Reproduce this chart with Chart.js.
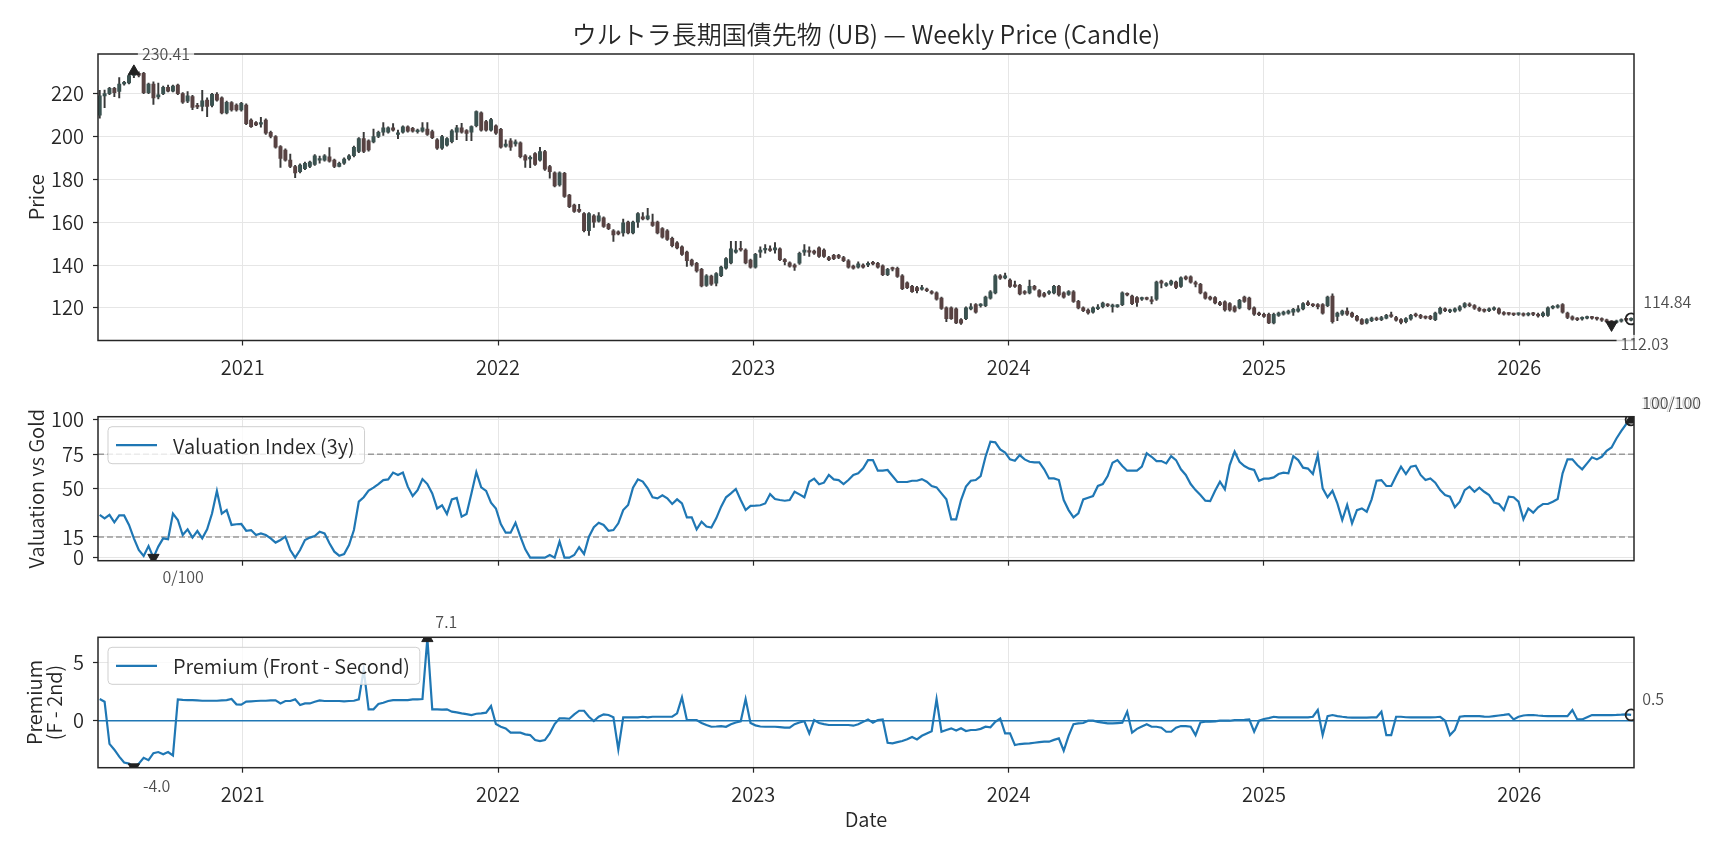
<!DOCTYPE html>
<html>
<head>
<meta charset="utf-8">
<title>UB Weekly</title>
<script src="https://cdn.jsdelivr.net/npm/chart.js@4.4.1/dist/chart.umd.min.js"></script>
<style>
  html, body { margin: 0; padding: 0; background: #fff; }
  #wrap { position: relative; width: 1728px; height: 849px; }
  #wrap canvas { position: absolute; left: 0; }
</style>
</head>
<body>
<div id="wrap">
  <canvas id="priceChart" width="1728" height="390" style="top:0"></canvas>
  <canvas id="valChart" width="1728" height="200" style="top:390px"></canvas>
  <canvas id="premChart" width="1728" height="259" style="top:590px"></canvas>
</div>
<script>
/* ── DATA ─────────────────────────────────────── */
const START_DATE = '2020-06-10';          // first weekly bar
const YEARS = [2021, 2022, 2023, 2024, 2025, 2026];
const X_MIN = 2020.4332, X_MAX = 2026.4496;

const PRICE_TICKS = [120, 140, 160, 180, 200, 220];
const VAL_TICKS   = [0, 15, 50, 75, 100];
const PREM_TICKS  = [0, 5];
const VAL_BANDS   = [15, 75];

const OPEN = [
  210,219,220,222.5,221,224.5,225,228.5,229.5,229.5,
  220.5,224.5,218.5,220,223,221.2,224,220,216.5,218.6,
  214.5,214,217,214.5,219.7,218,211,215.8,214.7,212.4,
  214.7,207.7,206.5,205.8,207.7,202,200,195.3,193.7,189,
  186,183.6,185,186,187,189,189,190.5,189,186,
  187.5,189.5,191,193,199,198,197.5,200,202,202,
  204,201,202,204.5,203.8,202.2,202.5,203.5,202.3,198.5,
  194.5,196,197.6,202,204,202.8,202,205,211,207,
  203,205,203.3,195.5,198,196.5,197,191,189.5,192,
  189,193,186,183,177.4,182.8,172.6,168,166,164,
  156,163,160.5,162,159,156,155.5,155,160,155,
  160,162.5,161.5,160,160,157,156,152.5,150.4,148.5,
  146,142.3,140.8,138,130.5,134.8,131.5,135,138.5,141,
  146,147.5,147,142.3,139,146,147,147.5,147,147.5,
  142.5,141,140,140.8,146,146.5,146.5,148,147,143.5,
  144.5,144.5,143.5,142,139.5,139,140,140,141,140.8,
  139.6,135.5,138.2,138.5,135,131.7,130,129.5,128.7,128.8,
  127.5,127,124.5,120,120,119.5,114.5,115,119.5,121.5,
  121,121,124.5,127,135,134,133,130.3,130.5,127.5,
  127,130,128,126.7,126.8,127,130,127,126.3,127.5,
  123,120,119,118,119.6,120.5,121.6,120.5,120.6,121.5,
  126.5,125.5,124.8,124,124.6,123.5,124,132.5,130.5,131,
  132,130,134.5,134.5,131.5,131,127,125,124.8,122.5,
  122.8,122,120.5,120,125,124.5,120,117.5,117,117,
  113,116.5,117,117.5,118,118.5,119.5,122.5,121.5,121.5,
  121.5,121,125.5,116,117,118.5,117.5,116,114.5,113,
  114,115.2,114.5,115.2,116.5,115.5,114.5,113.5,114.8,116.5,
  116.5,115.8,116,114.5,117.5,119.5,118.3,118.5,119,120.5,
  121.8,121,119.8,119,118.7,119.3,119.5,117.8,117.3,117.1,
  116.9,117.2,116.7,117.4,117,116.3,116.5,120,120.3,121.5,
  117.5,115.8,114.9,114.8,115.2,115.5,115.2,114.8,114.2,113.6,
  113.2,113.8,114.4,114.3
];
const HIGH = [
  221.5,221.7,223,223,227.5,225.8,229.2,230.41,230.2,230,
  225,225.5,225,223.5,224,224,224.5,220.5,221,219.2,
  215.5,221.5,218,220.2,220.5,218.5,216.5,216.3,215.2,216,
  215.2,208.2,207,209,208.2,202.5,200.4,195.8,194.2,191.8,
  186.5,187.2,188,188.5,191.5,190.8,191.5,194.8,189.5,188,
  190,191.5,195.5,199.5,202,198.5,203.5,202.5,206.5,204.5,
  206,203,205,205,204.3,203.5,206.5,206.5,203,199,
  200.5,199.5,203.2,205.2,206.2,203.2,205,212,211.5,207.5,
  208.5,205.5,203.8,198.5,199,198.5,197.5,191.5,191,192.5,
  195,193.5,186.5,183.5,183.5,183.3,173,168.5,168.3,164.5,
  164.5,163.5,164.5,162.5,159.5,156.5,156,161.5,160.5,160.5,
  164.5,164.5,166.5,163.8,160.5,157.5,156.5,153,150.9,149,
  146.5,142.8,141.3,138.5,135.5,135.3,136.5,139.5,143.5,151,
  151,151,147.5,142.8,145.5,148.5,149.5,149,150.5,148,
  143,141.5,140.5,146,149.5,148.5,147,148.5,147.5,144,
  145,145,144,142.5,140,141.5,140.5,141.5,141.7,141.3,
  140.1,138.5,139,139,135.5,132.2,130.5,130,130.5,129.2,
  128,127.5,125,120.5,120.5,120,115,120.5,122,122,
  122,125.5,128,135.5,135.5,136.2,133.5,132.5,131,128,
  133,130.5,128.5,127.2,128,130.5,130.5,127.5,128,128,
  123.5,120.5,119.5,120.5,121.5,122.7,122,121.7,121.5,127.5,
  127,126,125.3,125,125,125.2,132.5,133,131.8,133,
  132.5,134.5,135,135,132.5,131.5,127.5,125.5,125.3,123,
  123.3,122.5,121,124,125.5,125,120.5,118,117.5,117.5,
  117.5,118,118.5,119,119.8,121,122.5,123.3,122,122,
  122,125.5,126.5,118,119,120,118,116.5,115,115,
  115.7,115.7,116,117,118,116,115,115.5,117,117.5,
  117,116.3,116.5,118,120.3,120,119.4,120,121,122.5,
  122.3,121.5,120.3,119.5,120,120.5,120,118.3,117.8,117.6,
  117.7,117.7,117.8,117.9,117.5,118.1,120.5,121,121.5,122,
  118,116.3,115.4,115.8,116.1,116,115.7,115.3,114.7,114.1,
  114.3,114.9,114.9,115.3
];
const LOW = [
  208.5,213.5,219.5,218.6,218,224,224.5,227.5,227.8,220,
  220,215,217.5,219.5,220.8,220.8,219.5,215.5,215.8,212.5,
  213,212,209.3,213.8,216.5,210.5,210.5,211.8,211.8,211.8,
  205.5,204.2,205,204.4,201,199.3,194.5,185.6,188.5,185.5,
  180.8,183,184.5,185.5,186.5,187.5,188.5,188,185.5,185.8,
  187,189,190.5,192.5,192.5,193.2,197,199.5,200.5,201.5,
  202.5,199,201.5,202,202,201.5,202,200.5,199,194,
  194,195.5,197,198.5,201.5,198,198,204.5,202.5,202.5,
  202.5,201,194.5,195,193.5,195.5,190,185.6,185.5,186.5,
  188.5,184.2,180.5,176.4,176.8,171.5,166.8,164.5,164.5,155.5,
  153.8,157.5,160,157.5,156.5,151,154,153.5,154.5,154.5,
  157.5,161,161,158,154.5,152.5,151.5,148.5,147.5,144.5,
  139.3,139.5,136.7,129.8,130,130.5,130.2,134.5,138,140.5,
  145.5,146.5,140.5,138.5,138.5,143.5,145.5,146.3,145.5,142,
  140,139,137.5,140.3,144.5,144,145,143.5,143.5,142,
  142.5,143,141.5,138.5,138,138.5,138.5,139.2,140,138.5,
  135,135,137.2,134.2,128.5,129,127.2,127,128.3,127.6,
  126.4,123.6,119.3,113.5,114.6,112.6,112.3,114.5,119,117.5,
  120.3,120.5,124,126.5,133.3,133.5,129.5,129.5,126,126.3,
  126.5,128.2,125,125,126.3,126.5,125.5,124.5,125.8,122.5,
  119.5,118.2,117,117.5,119.2,120,120.6,118,120.2,121,
  125.6,121.5,120.7,123.5,123.7,121.8,123.5,129.3,130,130.5,
  129,129.5,133,131.5,129.8,126.5,124,123.6,121.8,121,
  118.5,118.5,118,119.5,122.5,119,116.5,116.3,115.5,112.6,
  112.5,116,116.6,117,116.5,118,119,121,120.5,119.5,
  117,120.5,112.8,114,116.5,116.5,115.5,113.8,112.2,112.5,
  113.5,114,114,114.8,115.5,113.8,112.5,113,114.3,115.8,
  115,114.8,114.5,114,117,118.2,117.8,118,118.5,120,
  120.5,119.3,118.3,118,118.2,118.8,117,116.6,116.6,116.4,
  116.5,116.1,116.2,116.4,115.7,115.8,116,119.5,119.8,117.5,
  115,114.2,114,114.3,114.8,114.7,114.3,113.7,113.1,112.03,
  112.8,113.3,113.8,113.9
];
const CLOSE = [
  219,220,222.5,220.5,224.5,225,228.5,229.5,228.5,220.5,
  224.5,218,219.5,223,221.2,223.5,220,216,219,213.6,
  213.8,216.7,214,219.7,217,211,216,212.4,212.4,215.5,
  206,204.6,205.4,206.5,201.5,200,195,189.8,189,186,
  183,186.7,187.5,188,191,189.5,191,188.5,186,187.5,
  189.5,191,195,199,193,193.7,200,202,204,204,
  203,201.5,204.5,202.5,202.5,203,204,201,199.5,194.5,
  200,199,202.7,204,202,201.4,204.6,211.6,203,203,
  207.9,201.5,195,196.5,195,197.5,190.6,189,190.2,187,
  193,184.7,183.6,176.9,183,172,167.2,165,165,156,
  164,160,163,158,157,154,154.5,159.7,155,160,
  164,161.5,163,158.5,155,153,152,149,148,145,
  142,140,137.2,130.2,135,131,136,139,143,147.6,
  147,147,141,139,145,147,147.5,146.8,148,142.5,
  141.5,139.5,139,145.5,147,146,145.5,144,144,142.5,
  143,143.5,142,139,138.5,140.5,139,140.5,140.5,139,
  135.5,138,138,134.7,129,129.4,127.6,128,129.3,128,
  126.8,124,119.7,115,115,113,112.8,120,120.5,118,
  121.5,125,127.5,135,133.8,135,130,130,126.5,126.8,
  130,128.7,125.5,125.5,127.5,130,126,125,127.6,123,
  120,118.7,117.6,120,120.3,122.2,121,121.2,121,127,
  126,122,122.5,124.5,124,123,132,131.5,131.3,132.5,
  129.5,134,133.5,132,131,127,124.5,124,122.3,121.5,
  119,119,118.5,123.5,123,119.5,117,116.8,116,113,
  117,117.5,118,118.5,119.3,119.5,122,121.5,121,120.6,
  117.5,125,113.5,117.5,118.5,117,116,114.2,112.5,114.5,
  115.2,114.5,115.5,116.5,116,114.3,113.2,115,116.5,116.3,
  115.5,115.3,115,117.5,119.8,118.7,118.9,119.5,120.5,122,
  121,119.8,118.8,118.5,119.5,120,117.5,117,117,116.8,
  117.2,116.6,117.3,116.9,116.2,117.6,120,120.5,121,118,
  115.5,114.7,114.5,115.3,115.6,115.2,114.8,114.2,113.6,113.2,
  113.8,114.4,114.3,114.84
];

const VALUATION = [
  31,28.5,31,25.6,30.6,30.6,23.7,14,5.5,1.2,
  8.4,0,8,14,13.3,32,27.3,16.4,20.5,14.5,
  19.3,14,20.5,32,48.4,32,34.5,23.7,24.2,24.4,
  19.5,20,16.4,17.6,16.4,14,10.9,12.8,15.2,5.5,
  0,5.5,12.8,14.5,15.7,18.8,17.6,10.4,4.3,1.4,
  2.6,9.1,20,40.6,43.8,48.6,50.8,53.4,56.3,56.8,
  61.7,60,61.7,51.5,44.7,49,57,53.4,46.6,35.7,
  38,31.7,42.3,43.3,29.7,31.7,46.6,62.1,51,48.4,
  39.9,35.7,24.4,18.1,18.1,25.3,15.2,6,0,0,
  0,0,1.9,0,11.6,0,0,1.9,7.5,2.6,
  15.2,22,25.3,23.7,19.5,20,24.9,34.5,38.2,50.8,
  56.8,55.2,50.3,43.8,43,45.2,43,38.9,
  42.3,39.3,29.2,29.2,20.5,26.1,22.5,21.8,28.5,37,
  43.8,46.6,49.8,41.8,34.5,37.5,37.7,38,39.3,46.1,
  42.5,41.8,41.3,41.8,47.8,45.9,43.8,55.1,57.3,53.2,
  54.4,60,56.8,56.3,53.4,56.3,60,61.2,64.8,70.8,
  70.8,63.1,63.1,63.6,59.2,54.9,54.9,54.9,55.8,55.8,
  57,55.1,52,51,46.6,42.3,27.8,27.8,41.8,51.5,
  55.8,56.3,59.2,73.2,84.1,83.7,78.6,76.2,71.3,70.3,
  74.4,71.3,69.6,69.1,69.1,64.1,57.5,57.5,56.3,41.8,
  34.5,29.2,32.1,42.3,43.5,44.7,52,53.4,59.2,68.9,
  70.8,66.5,63.1,63.1,63.1,66,75.7,73.2,70.1,70.1,
  68.4,73.7,70.8,64.1,60,53.4,49,45.4,41.3,41,
  48.5,55.1,49.6,67.2,76.9,69.6,66.5,64.6,63.6,55.8,
  57.3,57.3,58.2,60.7,61.7,61.2,73.7,70.8,65.3,64.6,
  60.7,74.4,50.3,43.8,48.5,39.3,27.3,38.2,24.9,34.5,
  35.7,33.3,42.3,55.8,56.3,52,52,59.2,66,60.7,
  66,66.7,60,56.3,57.5,54.4,49,45.4,44.2,36.5,
  40.6,49,51.5,47.8,50.8,47.8,45.4,39.9,38.9,34.5,
  44.2,43.8,40.6,27.8,35.7,32.6,36.5,38.9,38.9,40.6,
  42.5,61.2,71.3,71.3,67.2,64.1,68.4,72.8,71.3,73.2,
  77.6,80,86.5,92,97,100
];

const PREMIUM = [
  1.87,1.64,-2.0,-2.5,-3.1,-3.6,-3.7,-4.0,-3.7,-3.2,
  -3.4,-2.8,-2.7,-2.9,-2.7,-3.0,1.84,1.8,1.78,1.78,
  1.75,1.72,1.72,1.72,1.72,1.75,1.78,1.87,1.41,1.38,
  1.64,1.67,1.7,1.72,1.72,1.75,1.75,1.49,1.7,1.7,
  1.84,1.35,1.49,1.49,1.64,1.75,1.7,1.7,1.7,1.7,
  1.67,1.7,1.72,1.84,4.4,0.98,0.98,1.44,1.55,1.7,
  1.78,1.78,1.78,1.78,1.84,1.84,1.87,7.1,0.98,0.98,
  0.95,0.98,0.78,0.72,0.63,0.57,0.49,0.6,0.63,0.69,
  1.26,-0.29,-0.52,-0.66,-1.03,-1.03,-1.03,-1.18,-1.24,-1.67,
  -1.75,-1.67,-1.09,-0.29,0.2,0.2,0.17,0.55,0.86,0.86,
  0.34,-0.03,0.34,0.55,0.49,0.29,-2.47,0.29,0.29,0.29,
  0.29,0.34,0.29,0.34,0.34,0.34,0.34,0.34,0.63,2.01,
  0.06,0.06,0.06,-0.2,-0.37,-0.52,-0.5,-0.46,-0.52,-0.3,
  -0.15,-0.05,1.87,-0.2,-0.4,-0.5,-0.52,-0.52,-0.52,-0.55,
  -0.6,-0.6,-0.3,-0.15,-0.05,-1.09,0.06,-0.2,-0.3,-0.37,
  -0.37,-0.37,-0.37,-0.37,-0.43,-0.3,-0.1,0.11,-0.17,0.05,
  0.11,-1.9,-1.95,-1.85,-1.75,-1.6,-1.4,-1.61,-1.3,-1.1,
  -0.9,1.87,-0.95,-0.8,-0.66,-0.85,-0.65,-0.89,-0.8,-0.8,
  -0.7,-0.52,-0.57,-0.1,0.2,-1.09,-1.09,-2.1,-2.01,-1.98,
  -1.95,-1.9,-1.85,-1.81,-1.81,-1.65,-1.52,-2.59,-1.3,-0.3,
  -0.23,-0.2,0,0,-0.1,-0.17,-0.23,-0.23,-0.2,-0.17,
  0.78,-1.03,-0.7,-0.5,-0.3,-0.52,-0.52,-0.6,-0.95,-0.95,
  -0.6,-0.46,-0.46,-0.52,-1.24,-0.15,-0.09,-0.09,-0.06,0,
  0,0,0.06,0.06,0.08,0.11,-0.95,0,0.15,0.22,
  0.34,0.29,0.29,0.29,0.29,0.29,0.29,0.29,0.34,0.92,
  -1.24,0.4,0.49,0.4,0.34,0.29,0.26,0.26,0.26,0.26,
  0.29,0.29,0.78,-1.24,-1.24,0.34,0.34,0.3,0.29,0.29,
  0.29,0.29,0.29,0.3,0.34,0,-1.24,-0.8,0.34,0.4,
  0.4,0.4,0.4,0.36,0.34,0.4,0.45,0.5,0.57,0.11,
  0.34,0.45,0.49,0.49,0.45,0.42,0.4,0.4,0.4,0.4,
  0.4,0.92,0.11,0.11,0.3,0.49,0.49,0.49,0.49,0.49,
  0.5,0.52,0.55,0.5
];

/* ── STYLE ────────────────────────────────────── */
const FONT  = "'Noto Sans CJK JP', 'Noto Sans', 'DejaVu Sans', sans-serif";
const WEIGHT = '350';
const INK   = '#262626';
const GRID  = '#e6e6e6';
const BLUE  = '#1f77b4';
const UP    = '#3b5250';
const DOWN  = '#574242';
const WICK  = '#383838';
const MARK  = '#222222';

Chart.defaults.font.family = FONT;
Chart.defaults.font.weight = WEIGHT;
Chart.defaults.color = INK;
Chart.defaults.animation = false;
Chart.defaults.events = [];

/* ── HELPERS ──────────────────────────────────── */
function decYear(d) {
  const y = d.getUTCFullYear();
  const a = Date.UTC(y, 0, 1), b = Date.UTC(y + 1, 0, 1);
  return y + (d.getTime() - a) / (b - a);
}
const t0 = Date.parse(START_DATE + 'T00:00:00Z');
const XS = CLOSE.map((_, i) => decYear(new Date(t0 + i * 7 * 864e5)));
const LAST = XS.length - 1;

const argMax = a => a.reduce((m, v, i) => v > a[m] ? i : m, 0);
const argMin = a => a.reduce((m, v, i) => v < a[m] ? i : m, 0);

function xAxis(height, labels, title) {
  return {
    type: 'linear', min: X_MIN, max: X_MAX, offset: false,
    afterBuildTicks: s => { s.ticks = YEARS.map(v => ({ value: v })); },
    afterFit: s => { s.height = height; },
    grid: { color: GRID, lineWidth: 1, offset: false, tickLength: 5, tickColor: INK, tickWidth: 1.2 },
    border: { display: false },
    ticks: { autoSkip: false, maxRotation: 0, padding: 9.5, font: { size: 20 }, color: INK,
             callback: v => labels ? String(v) : '' },
    title: title
      ? { display: true, text: title, font: { size: 20 }, color: INK, padding: { top: 0, bottom: 18 } }
      : { display: false }
  };
}

function yAxis(min, max, ticks, title, lineHeight) {
  return {
    type: 'linear', min, max,
    afterBuildTicks: s => { s.ticks = ticks.map(v => ({ value: v })); },
    afterFit: s => { s.width = 98; },
    grid: { color: GRID, lineWidth: 1, tickLength: 5, tickColor: INK, tickWidth: 1.2 },
    border: { display: false },
    ticks: { padding: 9, font: { size: 20 }, color: INK },
    title: { display: true, text: title, font: { size: 20, lineHeight }, color: INK,
             padding: { top: 24, bottom: 0 } }
  };
}

function marker(x, y, style, rot, hollow) {
  return {
    type: 'scatter', order: 0, clip: 0,
    data: [{ x, y }],
    pointStyle: style, rotation: rot,
    pointRadius: hollow ? 5.5 : 6.5,
    pointBorderWidth: hollow ? 1.8 : 1,
    pointBorderColor: MARK,
    pointBackgroundColor: hollow ? 'rgba(0,0,0,0)' : MARK
  };
}

/* ── PLUGINS ──────────────────────────────────── */
const frame = {
  id: 'frame',
  afterDraw(chart) {
    const { ctx, chartArea: a } = chart;
    ctx.save();
    ctx.strokeStyle = INK; ctx.lineWidth = 1.5;
    ctx.strokeRect(a.left, a.top, a.right - a.left, a.bottom - a.top);
    ctx.restore();
  }
};

const legendBox = {
  id: 'legendBox',
  afterDraw(chart, args, o) {
    if (!o.label) return;
    const { ctx, chartArea: a } = chart;
    ctx.save();
    ctx.font = WEIGHT + ' 20px ' + FONT;
    const tw = ctx.measureText(o.label).width;
    const x = a.left + 10, y = a.top + 10, w = tw + 75, h = 37;
    ctx.beginPath(); ctx.roundRect(x, y, w, h, 4);
    ctx.fillStyle = 'rgba(255,255,255,0.8)'; ctx.fill();
    ctx.strokeStyle = '#cfcfcf'; ctx.lineWidth = 1; ctx.stroke();
    ctx.strokeStyle = BLUE; ctx.lineWidth = 2.2;
    ctx.beginPath(); ctx.moveTo(x + 8, y + h / 2); ctx.lineTo(x + 49, y + h / 2); ctx.stroke();
    ctx.fillStyle = INK; ctx.textBaseline = 'middle';
    ctx.fillText(o.label, x + 65, y + h / 2 + 1);
    ctx.restore();
  }
};

// value labels next to the min / max / last markers
const notes = {
  id: 'notes',
  afterDraw(chart, args, o) {
    const { ctx } = chart;
    const xs = chart.scales.x, ys = chart.scales.y;
    ctx.save();
    ctx.font = WEIGHT + ' 16px ' + FONT;
    ctx.textBaseline = 'middle';
    (o.items || []).forEach(n => {
      const px = xs.getPixelForValue(n.x) + n.dx;
      const py = ys.getPixelForValue(n.y) + n.dy;
      const w = ctx.measureText(n.text).width;
      ctx.fillStyle = 'rgba(255,255,255,0.72)';
      ctx.fillRect(px - 4, py - 9, w + 8, 18);
      ctx.fillStyle = '#4d4d4d';
      ctx.fillText(n.text, px, py);
    });
    ctx.restore();
  }
};

const fmt2 = v => v.toFixed(2);

/* ── PRICE (CANDLES) ──────────────────────────── */
function renderPrice() {
  const bodies = OPEN.map((o, i) => ({ x: XS[i], y: [Math.min(o, CLOSE[i]), Math.max(o, CLOSE[i])] }));
  const wicks  = OPEN.map((o, i) => ({ x: XS[i], y: [LOW[i], HIGH[i]] }));
  const colors = OPEN.map((o, i) => CLOSE[i] >= o ? UP : DOWN);
  const iHi = argMax(HIGH), iLo = argMin(LOW);

  new Chart(document.getElementById('priceChart'), {
    type: 'bar',
    data: {
      datasets: [
        { data: wicks, order: 2, grouped: false, barThickness: 1.3, backgroundColor: WICK, borderWidth: 0 },
        { data: bodies, order: 1, grouped: false, barThickness: 3.3, minBarLength: 1.6,
          backgroundColor: colors, borderWidth: 0 },
        marker(XS[iHi], HIGH[iHi], 'triangle', 0, false),
        marker(XS[iLo], LOW[iLo], 'triangle', 180, false),
        marker(XS[LAST], CLOSE[LAST], 'circle', 0, true)
      ]
    },
    options: {
      responsive: false,
      layout: { padding: { left: 0, right: 94, top: 0, bottom: 0 } },
      plugins: {
        legend: { display: false }, tooltip: { enabled: false },
        title: { display: true, fullSize: false, text: 'ウルトラ長期国債先物 (UB) — Weekly Price (Candle)',
                 font: { size: 25, weight: WEIGHT }, color: INK, padding: { top: 19, bottom: 5 } },
        notes: { items: [
          { x: XS[iHi], y: HIGH[iHi], text: fmt2(HIGH[iHi]), dx: 8, dy: -17 },
          { x: XS[iLo], y: LOW[iLo], text: fmt2(LOW[iLo]), dx: 9, dy: 19 },
          { x: XS[LAST], y: CLOSE[LAST], text: fmt2(CLOSE[LAST]), dx: 12, dy: -17 }
        ] }
      },
      scales: {
        x: xAxis(49.5, true, null),
        y: yAxis(104.75, 238.52, PRICE_TICKS, 'Price', 1.2)
      }
    },
    plugins: [frame, notes]
  });
}

/* ── VALUATION INDEX ──────────────────────────── */
function renderValuation() {
  const iHi = argMax(VALUATION), iLo = argMin(VALUATION);
  const bands = VAL_BANDS.map(b => ({
    type: 'line', order: 3, data: [{ x: X_MIN, y: b }, { x: X_MAX, y: b }],
    borderColor: '#9a9a9a', borderWidth: 1.5, borderDash: [6, 3], pointRadius: 0
  }));
  new Chart(document.getElementById('valChart'), {
    type: 'line',
    data: {
      datasets: [
        { data: VALUATION.map((v, i) => ({ x: XS[i], y: v })), order: 1,
          borderColor: BLUE, borderWidth: 2.2, pointRadius: 0, tension: 0 },
        ...bands,
        marker(XS[iLo], VALUATION[iLo], 'triangle', 180, false),
        marker(XS[iHi], VALUATION[iHi], 'triangle', 0, false),
        marker(XS[LAST], VALUATION[LAST], 'circle', 0, true)
      ]
    },
    options: {
      responsive: false,
      layout: { padding: { left: 0, right: 94, top: 26.7, bottom: 0 } },
      plugins: {
        legend: { display: false }, tooltip: { enabled: false },
        legendBox: { label: 'Valuation Index (3y)' },
        notes: { items: [
          { x: XS[iLo], y: VALUATION[iLo], text: Math.round(VALUATION[iLo]) + '/100', dx: 9, dy: 19 },
          { x: XS[iHi], y: VALUATION[iHi], text: Math.round(VALUATION[iHi]) + '/100', dx: 9, dy: -17 },
          { x: XS[LAST], y: VALUATION[LAST], text: Math.round(VALUATION[LAST]) + '/100', dx: 11, dy: -17 }
        ] }
      },
      scales: {
        x: xAxis(29.3, false, null),
        y: yAxis(-2.25, 102.3, VAL_TICKS, 'Valuation vs Gold', 1.2)
      }
    },
    plugins: [frame, legendBox, notes]
  });
}

/* ── PREMIUM (FRONT - SECOND) ─────────────────── */
function renderPremium() {
  const iHi = argMax(PREMIUM), iLo = argMin(PREMIUM);
  new Chart(document.getElementById('premChart'), {
    type: 'line',
    data: {
      datasets: [
        { data: PREMIUM.map((v, i) => ({ x: XS[i], y: v })), order: 1,
          borderColor: BLUE, borderWidth: 2.2, pointRadius: 0, tension: 0 },
        { type: 'line', order: 2, data: [{ x: X_MIN, y: 0 }, { x: X_MAX, y: 0 }],
          borderColor: BLUE, borderWidth: 1.4, pointRadius: 0 },
        marker(XS[iLo], PREMIUM[iLo], 'triangle', 180, false),
        marker(XS[iHi], PREMIUM[iHi], 'triangle', 0, false),
        marker(XS[LAST], PREMIUM[LAST], 'circle', 0, true)
      ]
    },
    options: {
      responsive: false,
      layout: { padding: { left: 0, right: 94, top: 47.3, bottom: 0 } },
      plugins: {
        legend: { display: false }, tooltip: { enabled: false },
        legendBox: { label: 'Premium (Front - Second)' },
        notes: { items: [
          { x: XS[iLo], y: PREMIUM[iLo], text: PREMIUM[iLo].toFixed(1), dx: 9, dy: 19 },
          { x: XS[iHi], y: PREMIUM[iHi], text: PREMIUM[iHi].toFixed(1), dx: 8, dy: -16 },
          { x: XS[LAST], y: PREMIUM[LAST], text: PREMIUM[LAST].toFixed(1), dx: 11, dy: -16 }
        ] }
      },
      scales: {
        x: xAxis(81.3, true, 'Date'),
        y: yAxis(-4.05, 7.19, PREM_TICKS, ['Premium', '(F - 2nd)'], 1.0)
      }
    },
    plugins: [frame, legendBox, notes]
  });
}

renderPrice();
renderValuation();
renderPremium();
</script>
</body>
</html>
